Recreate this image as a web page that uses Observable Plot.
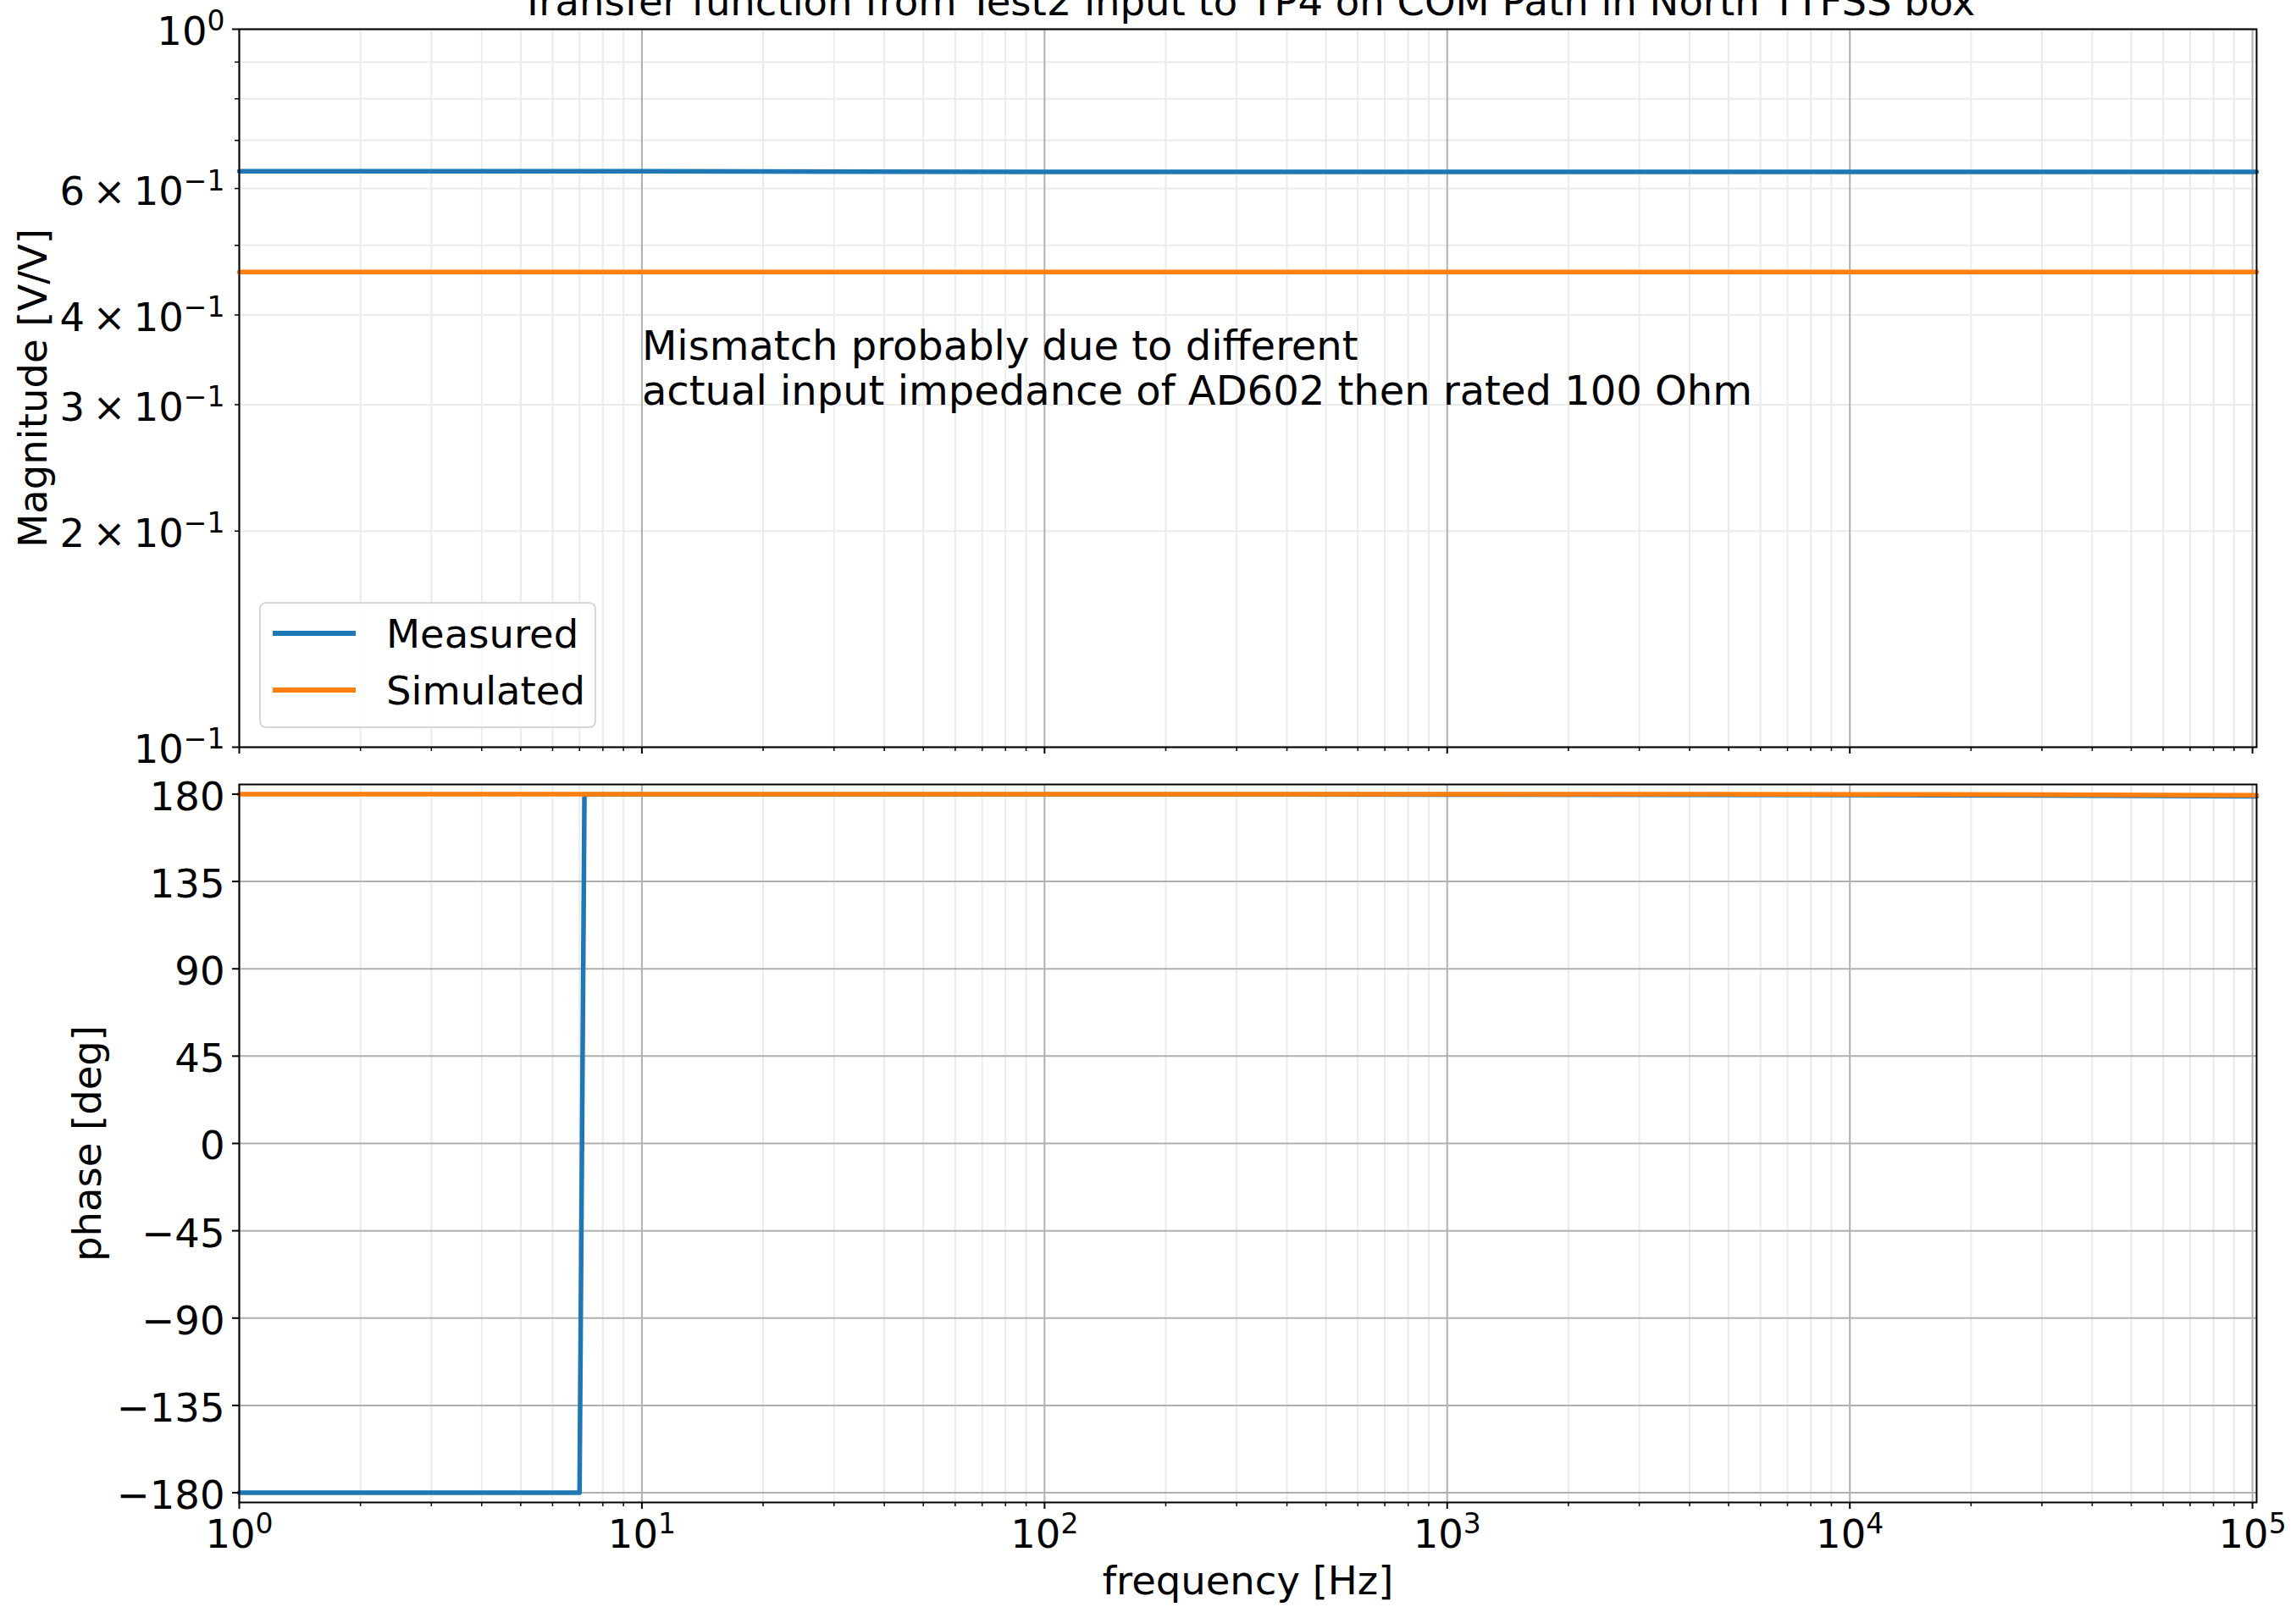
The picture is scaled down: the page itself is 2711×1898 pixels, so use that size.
<!DOCTYPE html>
<html>
<head>
<meta charset="utf-8">
<script src="https://cdn.jsdelivr.net/npm/d3@7"></script>
<script src="https://cdn.jsdelivr.net/npm/@observablehq/plot@0.6"></script>
<style>
html, body { margin: 0; padding: 0; background: #ffffff; }
#root { position: relative; width: 2711px; height: 1898px; overflow: hidden; font-family: "DejaVu Sans", sans-serif; }
.abs { position: absolute; }
</style>
</head>
<body>
<div id="root"></div>
<script>
// ---------- texts ----------
const titleText = "Transfer function from Test2 input to TP4 on COM Path in North TTFSS box";
const annotationText = "Mismatch probably due to different\nactual input impedance of AD602 then rated 100 Ohm";
const magLabel = "Magnitude [V/V]";
const phaseLabel = "phase [deg]";
const freqLabel = "frequency [Hz]";

// ---------- series ----------
const seriesNames = ["Measured", "Simulated"];
const seriesColors = ["#1f77b4", "#ff7f0e"];

// magnitude (V/V)
const magFreq = [1, 10, 100, 1000, 10000, 102400];
const measuredMag = [0.634, 0.634, 0.633, 0.633, 0.633, 0.633];
const simulatedMag = [0.459, 0.459, 0.459, 0.459, 0.459, 0.459];

// phase (deg)
const measuredPhaseFreq = [1, 3, 7.0, 7.2, 10, 100, 1000, 10000, 30000, 102400];
const measuredPhase = [-180, -180, -180, 179.9, 179.9, 179.9, 179.8, 179.6, 179.3, 178.9];
const simulatedPhaseFreq = [1, 10, 100, 1000, 10000, 30000, 102400];
const simulatedPhase = [180, 180, 180, 180, 179.9, 179.8, 179.4];

// annotation anchor (data coordinates)
const annotationFreq = [10];
const annotationMag = [0.3];

// ---------- ticks ----------
const freqDomain = [1, 102400];
const freqMajorTicks = [1, 10, 100, 1000, 10000, 100000];
const freqMinorMultipliers = [2, 3, 4, 5, 6, 7, 8, 9];
const freqMinorTicks = freqMajorTicks.slice(0, 5).flatMap(d => freqMinorMultipliers.map(m => m * d));
const magDomain = [0.1, 1];
const magMajorTicks = [0.1, 1];
const magMajorLabels = ["10^\u22121", "10^0"];
const magMinorTicks = [0.2, 0.3, 0.4, 0.5, 0.6, 0.7, 0.8, 0.9];
const magMinorLabels = ["2\u2009\u00d7\u200910^\u22121", "3\u2009\u00d7\u200910^\u22121", "4\u2009\u00d7\u200910^\u22121", "", "6\u2009\u00d7\u200910^\u22121", "", "", ""];
const phaseDomain = [-185, 185];
const phaseTicks = [-180, -135, -90, -45, 0, 45, 90, 135, 180];

// ---------- tables ----------
const magData = [
  ...magFreq.map((f, i) => ({f, v: measuredMag[i], s: seriesNames[0]})),
  ...magFreq.map((f, i) => ({f, v: simulatedMag[i], s: seriesNames[1]}))
];
const phaseData = [
  ...measuredPhaseFreq.map((f, i) => ({f, v: measuredPhase[i], s: seriesNames[0]})),
  ...simulatedPhaseFreq.map((f, i) => ({f, v: simulatedPhase[i], s: seriesNames[1]}))
];
const annotationData = [{f: annotationFreq[0], v: annotationMag[0], t: annotationText}];

const FS = 46.5;
const FS_ANN = 48;
const SUP = 33;
const LW = 5.5;
const minorGrid = "#ebebeb";
const majorGrid = "#b0b0b0";
const svgStyle = {fontFamily: '"DejaVu Sans", sans-serif', fontSize: FS + "px", background: "transparent", overflow: "visible", color: "black"};
const expFmt = v => {
  const e = Math.round(Math.log10(v));
  return "10^" + (e < 0 ? "\u2212" + Math.abs(e) : e);
};
const phaseFmt = d3.format("d");

function lineMarks(data) {
  return seriesNames.map((name, i) =>
    Plot.line(data.filter(d => d.s === name), {x: "f", y: "v", stroke: seriesColors[i], strokeWidth: LW})
  );
}

function xAxisTicks() {
  return [
    Plot.axisX(freqMajorTicks, {tickSize: 8, fill: "none", strokeWidth: 2, label: null}),
    Plot.axisX(freqMinorTicks, {tickSize: 5, fill: "none", strokeWidth: 1.5, label: null})
  ];
}

// ---------- top panel: magnitude ----------
const topPlot = Plot.plot({
  width: 2711, height: 900,
  marginLeft: 282, marginRight: 47, marginTop: 34, marginBottom: 18,
  style: svgStyle,
  x: {type: "log", domain: freqDomain},
  y: {type: "log", domain: magDomain},
  marks: [
    Plot.gridX(freqMinorTicks, {stroke: minorGrid, strokeOpacity: 1, strokeWidth: 2}),
    Plot.gridY(magMinorTicks, {stroke: minorGrid, strokeOpacity: 1, strokeWidth: 2}),
    Plot.gridX(freqMajorTicks, {stroke: majorGrid, strokeOpacity: 1, strokeWidth: 2}),
    Plot.gridY(magMajorTicks, {stroke: majorGrid, strokeOpacity: 1, strokeWidth: 2}),
    ...lineMarks(magData),
    Plot.frame({stroke: "black", strokeWidth: 2}),
    ...xAxisTicks(),
    Plot.axisY(magMajorTicks, {tickSize: 8, fill: "none", strokeWidth: 2, label: null}),
    Plot.axisY(magMinorTicks, {tickSize: 5, fill: "none", strokeWidth: 1.5, label: null}),
    Plot.axisY(magMajorTicks, {tickSize: 0, tickPadding: 17, dy: 4, fontSize: FS, label: null,
      tickFormat: v => magMajorLabels[magMajorTicks.indexOf(v)]}),
    Plot.axisY(magMinorTicks, {tickSize: 0, tickPadding: 17, dy: 4, fontSize: FS, label: null,
      tickFormat: v => magMinorLabels[magMinorTicks.indexOf(v)]}),
    Plot.text(annotationData, {x: "f", y: "v", text: "t", textAnchor: "start", lineAnchor: "bottom", lineHeight: 53 / FS_ANN, fontSize: FS_ANN, fill: "black"}),
    Plot.text([titleText], {text: d => d, frameAnchor: "top", textAnchor: "middle", dy: -17, lineAnchor: "bottom", fontSize: FS, fill: "black"}),
    Plot.text([magLabel], {text: d => d, frameAnchor: "left", textAnchor: "middle", dx: -228, rotate: -90, lineAnchor: "bottom", fontSize: FS, fill: "black"})
  ]
});

// ---------- bottom panel: phase ----------
const bottomPlot = Plot.plot({
  width: 2711, height: 998,
  marginLeft: 282, marginRight: 47, marginTop: 26, marginBottom: 124,
  style: svgStyle,
  x: {type: "log", domain: freqDomain},
  y: {domain: phaseDomain},
  marks: [
    Plot.gridX(freqMinorTicks, {stroke: minorGrid, strokeOpacity: 1, strokeWidth: 2}),
    Plot.gridX(freqMajorTicks, {stroke: majorGrid, strokeOpacity: 1, strokeWidth: 2}),
    Plot.gridY(phaseTicks, {stroke: majorGrid, strokeOpacity: 1, strokeWidth: 2}),
    ...lineMarks(phaseData),
    Plot.frame({stroke: "black", strokeWidth: 2}),
    ...xAxisTicks(),
    Plot.axisX(freqMajorTicks, {tickSize: 0, tickPadding: 20, fontSize: FS, label: null, tickFormat: expFmt}),
    Plot.axisY(phaseTicks, {tickSize: 8, fill: "none", strokeWidth: 2, label: null}),
    Plot.axisY(phaseTicks, {tickSize: 0, tickPadding: 17, dy: 4, fontSize: FS, label: null, tickFormat: phaseFmt}),
    Plot.text([phaseLabel], {text: d => d, frameAnchor: "left", textAnchor: "middle", dx: -164, rotate: -90, lineAnchor: "bottom", fontSize: FS, fill: "black"}),
    Plot.text([freqLabel], {text: d => d, frameAnchor: "bottom", textAnchor: "middle", dy: 108, lineAnchor: "bottom", fontSize: FS, fill: "black"})
  ]
});

// superscripts for "10^n" style tick labels
function supify(svg) {
  d3.select(svg).selectAll('g[aria-label$="tick label"] text').each(function () {
    const s = this.textContent;
    const i = s.indexOf("^");
    if (i < 0) return;
    const base = s.slice(0, i), exp = s.slice(i + 1);
    const t = d3.select(this);
    t.text(null);
    t.append("tspan").text(base);
    t.append("tspan").attr("dy", -17).attr("font-size", SUP).text(exp);
  });
}
supify(topPlot);
supify(bottomPlot);

const root = document.getElementById("root");
const topWrap = document.createElement("div");
topWrap.className = "abs"; topWrap.style.left = "0px"; topWrap.style.top = "0px";
topWrap.appendChild(topPlot);
root.appendChild(topWrap);
const botWrap = document.createElement("div");
botWrap.className = "abs"; botWrap.style.left = "0px"; botWrap.style.top = "900px";
botWrap.appendChild(bottomPlot);
root.appendChild(botWrap);

// ---------- legend ----------
const legend = document.createElement("div");
legend.className = "abs";
Object.assign(legend.style, {
  left: "306px", top: "711px", width: "398px", height: "149px", boxSizing: "border-box",
  border: "2px solid #d6d6d6", borderRadius: "8px", background: "rgba(255,255,255,0.8)"
});
root.appendChild(legend);
const entryBaselines = [765, 832];
seriesNames.forEach((name, i) => {
  const ln = document.createElement("div");
  ln.className = "abs";
  Object.assign(ln.style, {left: "322px", width: "98px", top: (entryBaselines[i] - 17 - LW / 2) + "px", height: LW + "px", background: seriesColors[i]});
  root.appendChild(ln);
  const tx = document.createElement("div");
  tx.className = "abs";
  Object.assign(tx.style, {left: "456px", top: (entryBaselines[i] - 39) + "px", fontSize: FS + "px", lineHeight: FS + "px", color: "black", whiteSpace: "nowrap"});
  tx.textContent = name;
  root.appendChild(tx);
});
</script>
</body>
</html>
